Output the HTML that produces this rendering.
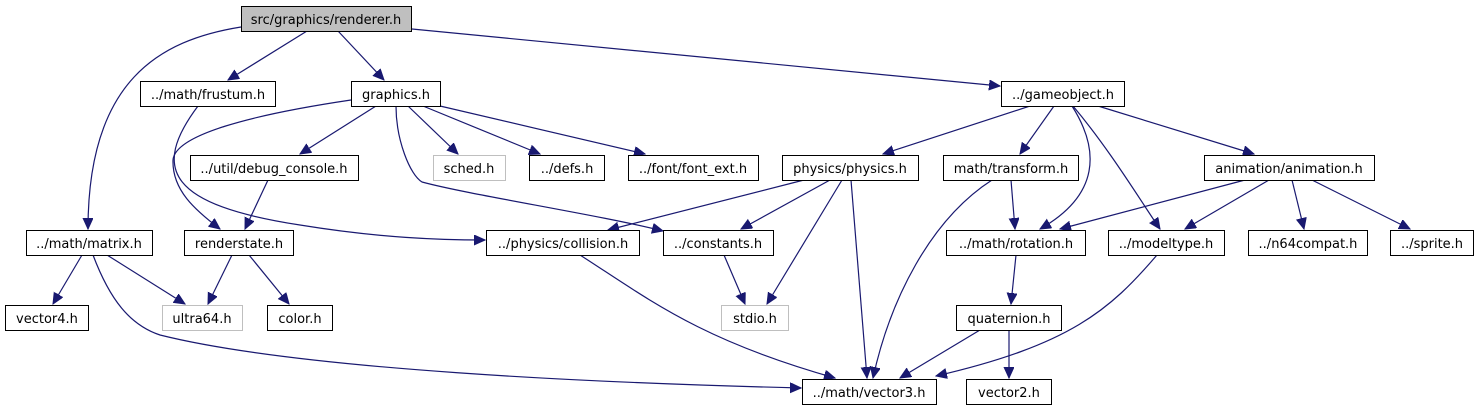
<!DOCTYPE html>
<html><head><meta charset="utf-8"><style>
html,body{margin:0;padding:0;background:#fff;}
svg{display:block;}
text{font-family:"DejaVu Sans","Liberation Sans",sans-serif;font-size:13px;text-anchor:middle;fill:#000;}
.n{fill:#fff;stroke:#000;stroke-width:1;}
.g{fill:#fff;stroke:#bfbfbf;stroke-width:1;}
.e{fill:none;stroke:#191970;stroke-width:1.2;}
</style></head><body>
<svg width="1479" height="411" viewBox="0 0 1479 411" xmlns="http://www.w3.org/2000/svg">
<defs><marker id="a" markerUnits="userSpaceOnUse" markerWidth="12" markerHeight="12" refX="11" refY="5" orient="auto"><path d="M0,0 L11,5 L0,10 z" fill="#191970" stroke="#191970"/></marker></defs>
<g marker-end="url(#a)">
<path class="e" d="M241,27 C160,40 88,80 88,229"/>
<path class="e" d="M307,31 L228,80"/>
<path class="e" d="M338,31 L384,80"/>
<path class="e" d="M412,29 L1000,86"/>
<path class="e" d="M198,106 C150,170 170,205 300,225 C380,238 440,240 485,240"/>
<path class="e" d="M351,100 C250,115 175,135 173,160 C172,190 195,210 220,229"/>
<path class="e" d="M376,106 L300,154"/>
<path class="e" d="M408,106 L458,154"/>
<path class="e" d="M423,106 L540,154"/>
<path class="e" d="M440,106 L645,154"/>
<path class="e" d="M396,106 C396,140 410,175 422,182 C470,195 600,215 663,231"/>
<path class="e" d="M268,180 L245,229"/>
<path class="e" d="M82,255 L53,304"/>
<path class="e" d="M107,255 L185,304"/>
<path class="e" d="M93,255 C110,300 130,325 160,335 C300,370 600,383 801,388"/>
<path class="e" d="M232,255 L208,304"/>
<path class="e" d="M249,255 L289,304"/>
<path class="e" d="M1030,106 L883,154"/>
<path class="e" d="M1054,106 L1020,154"/>
<path class="e" d="M1072,106 C1100,150 1100,195 1040,229"/>
<path class="e" d="M1073,106 C1110,150 1140,200 1160,229"/>
<path class="e" d="M1098,106 L1254,154"/>
<path class="e" d="M804,180 L608,230"/>
<path class="e" d="M830,180 L741,229"/>
<path class="e" d="M842,180 L767,304"/>
<path class="e" d="M851,180 L867,378"/>
<path class="e" d="M992,180 C930,220 890,300 873,378"/>
<path class="e" d="M1011,180 L1015,229"/>
<path class="e" d="M580,255 C650,300 700,340 835,378"/>
<path class="e" d="M724,255 L745,304"/>
<path class="e" d="M1245,180 L1060,229"/>
<path class="e" d="M1269,180 L1185,229"/>
<path class="e" d="M1292,180 L1304,229"/>
<path class="e" d="M1312,180 L1410,229"/>
<path class="e" d="M1016,255 L1011,304"/>
<path class="e" d="M980,330 L900,378"/>
<path class="e" d="M1009,330 L1009,378"/>
<path class="e" d="M1157,255 C1110,310 1070,345 936,376"/>
</g>
<rect x="241.5" y="6.5" width="170" height="25" fill="#bfbfbf" stroke="#000"/><text x="326" y="24">src/graphics/renderer.h</text>
<rect class="n" x="140.5" y="81.5" width="135" height="25"/><text x="208" y="99">../math/frustum.h</text>
<rect class="n" x="351.5" y="81.5" width="89" height="25"/><text x="396" y="99">graphics.h</text>
<rect class="n" x="1001.5" y="81.5" width="123" height="25"/><text x="1063" y="99">../gameobject.h</text>
<rect class="n" x="190.5" y="155.5" width="168" height="25"/><text x="274" y="173">../util/debug_console.h</text>
<rect class="g" x="433.5" y="155.5" width="72" height="25"/><text x="469" y="173">sched.h</text>
<rect class="n" x="529.5" y="155.5" width="75" height="25"/><text x="567" y="173">../defs.h</text>
<rect class="n" x="628.5" y="155.5" width="130" height="25"/><text x="693" y="173">../font/font_ext.h</text>
<rect class="n" x="782.5" y="155.5" width="136" height="25"/><text x="850" y="173">physics/physics.h</text>
<rect class="n" x="943.5" y="155.5" width="135" height="25"/><text x="1011" y="173">math/transform.h</text>
<rect class="n" x="1204.5" y="155.5" width="170" height="25"/><text x="1289" y="173">animation/animation.h</text>
<rect class="n" x="26.5" y="230.5" width="126" height="25"/><text x="89" y="248">../math/matrix.h</text>
<rect class="n" x="184.5" y="230.5" width="109" height="25"/><text x="239" y="248">renderstate.h</text>
<rect class="n" x="486.5" y="230.5" width="153" height="25"/><text x="563" y="248">../physics/collision.h</text>
<rect class="n" x="663.5" y="230.5" width="110" height="25"/><text x="718" y="248">../constants.h</text>
<rect class="n" x="946.5" y="230.5" width="139" height="25"/><text x="1016" y="248">../math/rotation.h</text>
<rect class="n" x="1108.5" y="230.5" width="116" height="25"/><text x="1166" y="248">../modeltype.h</text>
<rect class="n" x="1248.5" y="230.5" width="119" height="25"/><text x="1308" y="248">../n64compat.h</text>
<rect class="n" x="1390.5" y="230.5" width="83" height="25"/><text x="1432" y="248">../sprite.h</text>
<rect class="n" x="5.5" y="305.5" width="83" height="25"/><text x="47" y="323">vector4.h</text>
<rect class="g" x="162.5" y="305.5" width="80" height="25"/><text x="202" y="323">ultra64.h</text>
<rect class="n" x="267.5" y="305.5" width="65" height="25"/><text x="300" y="323">color.h</text>
<rect class="g" x="721.5" y="305.5" width="67" height="25"/><text x="755" y="323">stdio.h</text>
<rect class="n" x="956.5" y="305.5" width="105" height="25"/><text x="1009" y="323">quaternion.h</text>
<rect class="n" x="802.5" y="379.5" width="134" height="25"/><text x="869" y="397">../math/vector3.h</text>
<rect class="n" x="966.5" y="379.5" width="85" height="25"/><text x="1009" y="397">vector2.h</text>
</svg>
</body></html>
